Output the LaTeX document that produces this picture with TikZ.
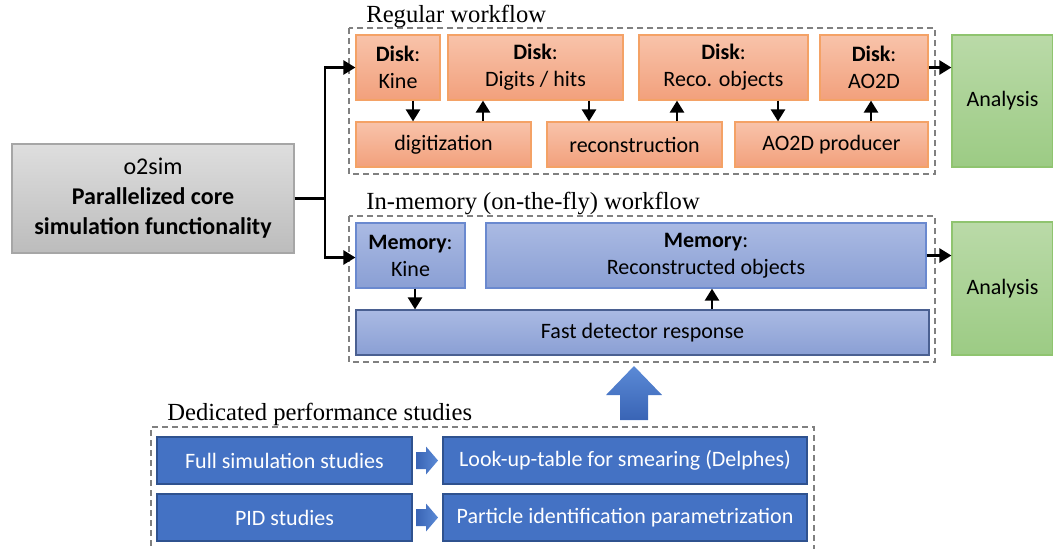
\documentclass[tikz,border=0pt]{standalone}
\usepackage{fontspec}
\setsansfont{Carlito}
\newfontfamily\headfont{Liberation Serif}
\usetikzlibrary{arrows.meta}

\definecolor{orangetop}{HTML}{F8C3AA}
\definecolor{orangebot}{HTML}{F2A07C}
\definecolor{orangeline}{HTML}{F4A266}
\definecolor{bluetop}{HTML}{AABAE3}
\definecolor{bluebot}{HTML}{8A9FD4}
\definecolor{blueline}{HTML}{6A89CF}
\definecolor{greentop}{HTML}{BADAA8}
\definecolor{greenbot}{HTML}{9CCB84}
\definecolor{greenline}{HTML}{8FC46F}
\definecolor{graytop}{HTML}{DEDEDE}
\definecolor{graybot}{HTML}{BCBCBC}
\definecolor{grayline}{HTML}{A6A6A6}
\definecolor{studyfill}{HTML}{4472C4}
\definecolor{studyline}{HTML}{2F528F}
\definecolor{bigtop}{HTML}{5B8AD6}
\definecolor{bigbot}{HTML}{3964B5}

\begin{document}
\begin{tikzpicture}[x=0.5pt,y=-0.5pt,
  every node/.style={font=\sffamily\fontsize{11}{13.5}\selectfont, align=center, inner sep=0pt},
  box/.style={draw, rectangle, line width=0.6pt},
  disk/.style={box, draw=orangeline, top color=orangetop, bottom color=orangebot},
  mem/.style={box, draw=blueline, top color=bluetop, bottom color=bluebot},
  ana/.style={box, draw=greenline, top color=greentop, bottom color=greenbot},
  study/.style={box, draw=studyline, fill=studyfill, text=white},
  frame/.style={draw=gray, line width=0.75pt, dash pattern=on 3pt off 2pt},
  head/.style={font=\headfont\fontsize{12.3}{15}\selectfont, anchor=base west},
  arr/.style={-{Triangle[length=6pt,width=7pt]}, line width=1.25pt}
]
\useasboundingbox (0,0) rectangle (1053,548);

% core
\node[box, draw=grayline, top color=graytop, bottom color=graybot,
  minimum width=141pt, minimum height=54.5pt, font=\sffamily\fontsize{12}{15}\selectfont]
  (o2sim) at (153,198.5) {o2sim\\\textbf{Parallelized core}\\\textbf{simulation functionality}};

% regular workflow
\draw[frame] (349,28) rectangle (935,174);
\node[head] (reghead) at (366,22) {Regular workflow};
\node[disk, minimum width=42pt, minimum height=32.5pt] (kine) at (398,67.5) {\textbf{Disk}:\\Kine};
\node[disk, minimum width=87.5pt, minimum height=32.5pt] (digits) at (535.5,67.5) {\textbf{Disk}:\\Digits / hits};
\node[disk, minimum width=84.5pt, minimum height=32.5pt] (reco) at (723.5,67.5) {\textbf{Disk}:\\Reco. objects};
\node[disk, minimum width=54pt, minimum height=32.5pt] (aod) at (874,67.5) {\textbf{Disk}:\\AO2D};
\node[disk, minimum width=87.5pt, minimum height=22.5pt] (digi) at (443.5,144.5) {digitization};
\node[disk, minimum width=87.5pt, minimum height=22.5pt] (recon) at (634.5,144.5) {reconstruction};
\node[disk, minimum width=96.5pt, minimum height=22.5pt] (aodprod) at (831.5,144.5) {AO2D producer};
\node[ana, minimum width=50.5pt, minimum height=66pt] (ana1) at (1002.5,101) {Analysis};

% in-memory workflow
\draw[frame] (349,216) rectangle (935,362);
\node[head] (memhead) at (366,209) {In-memory (on-the-fly) workflow};
\node[mem, minimum width=54.5pt, minimum height=32.5pt] (memkine) at (410.5,255.5) {\textbf{Memory}:\\Kine};
\node[mem, minimum width=220pt, minimum height=32.5pt] (memreco) at (706,255.5) {\textbf{Memory}:\\Reconstructed objects};
\node[mem, draw=blueline!70!black, minimum width=286.5pt, minimum height=22.5pt] (fast) at (642.5,332.5) {Fast detector response};
\node[ana, minimum width=50.5pt, minimum height=66.5pt] (ana2) at (1002.5,288.5) {Analysis};

% performance studies
\draw[frame] (151,556) |- (814,427) -- (814,556);
\node[head] (studhead) at (167,420) {Dedicated performance studies};
\node[study, minimum width=127.5pt, minimum height=23.5pt] (fullsim) at (284.5,460.5) {Full simulation studies};
\node[study, minimum width=182pt, minimum height=23.5pt] (lut) at (625,460.5) {Look-up-table for smearing (Delphes)};
\node[study, minimum width=127.5pt, minimum height=23.5pt] (pid) at (284.5,517.5) {PID studies};
\node[study, minimum width=182pt, minimum height=23.5pt] (pidpar) at (625,517.5) {Particle identification parametrization};

% connectors
\coordinate (split) at (325,198.5);
\draw[line width=1.25pt] (o2sim.east) -- (split);
\draw[arr] (split) |- (kine.west);
\draw[arr] (split) |- ([yshift=-1pt]memkine.west);
\draw[arr] (kine.south -| 413,0) -- (digi.north -| 413,0);
\draw[arr] (digi.north -| 483,0) -- (digits.south -| 483,0);
\draw[arr] (digits.south -| 589,0) -- (recon.north -| 589,0);
\draw[arr] (recon.north -| 677,0) -- (reco.south -| 677,0);
\draw[arr] (reco.south -| 778,0) -- (aodprod.north -| 778,0);
\draw[arr] (aodprod.north -| 871,0) -- (aod.south -| 871,0);
\draw[arr] (aod.east) -- (aod.east -| ana1.west);
\draw[arr] (memkine.south -| 415,0) -- (fast.north -| 415,0);
\draw[arr] (fast.north -| 712,0) -- (memreco.south -| 712,0);
\draw[arr] (memreco.east) -- (memreco.east -| ana2.west);

% block arrows
\shade[top color=bigtop, bottom color=bigbot] (606,395) -- (634,366) -- (662,395) -- (648,395)
  -- (648,420) -- (620,420) -- (620,395) -- cycle;
\foreach \y in {460.5,517.5}
  \shade[left color=bigbot, right color=bigtop] (416,\y-8.5) -- (426,\y-8.5) -- (426,\y-14) -- (438,\y)
    -- (426,\y+14) -- (426,\y+8.5) -- (416,\y+8.5) -- cycle;
\end{tikzpicture}
\end{document}
